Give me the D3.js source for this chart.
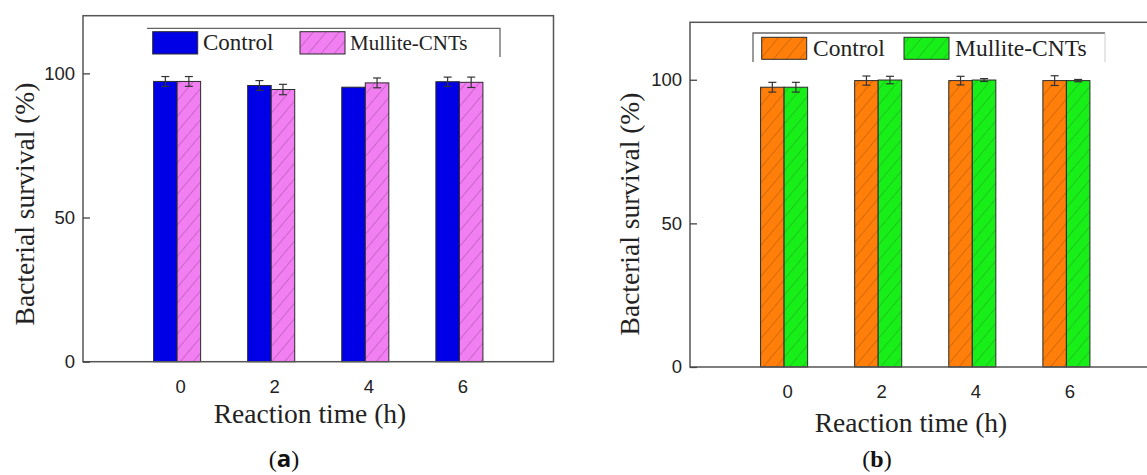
<!DOCTYPE html>
<html>
<head>
<meta charset="utf-8">
<script src="https://cdn.jsdelivr.net/npm/d3@7"></script>
<style>
  body { margin: 0; background: #fff; }
  svg { display: block; }
</style>
</head>
<body>
<svg id="chart" width="1147" height="475"></svg>
<script>
// reaction times (h)
const times = [0, 2, 4, 6];
const yTicks = [0, 50, 100];
const seriesNames = ["Control", "Mullite-CNTs"];

// panel (a)
const aControl = [97.2, 95.8, 95.2, 97.1];
const aControlErr = [1.7, 1.7, 0, 1.6];
const aMullite = [97.2, 94.4, 96.7, 96.9];
const aMulliteErr = [1.7, 1.8, 1.7, 1.8];

// panel (b)
const bControl = [97.4, 99.7, 99.7, 99.7];
const bControlErr = [1.7, 1.6, 1.5, 1.7];
const bMullite = [97.4, 99.9, 99.9, 99.7];
const bMulliteErr = [1.7, 1.3, 0.5, 0.4];

const svg = d3.select("#chart");
const defs = svg.append("defs");

// hatch patterns
function hatch(id, fill, line, op) {
  const p = defs.append("pattern")
    .attr("id", id)
    .attr("patternUnits", "userSpaceOnUse")
    .attr("width", 10).attr("height", 10)
    .attr("patternTransform", "rotate(40)");
  p.append("rect").attr("width", 10).attr("height", 10).attr("fill", fill);
  p.append("line")
    .attr("x1", 0).attr("y1", 0).attr("x2", 0).attr("y2", 10)
    .attr("stroke", line).attr("stroke-width", 1).attr("opacity", op);
}
hatch("hPink", "#f27ff2", "#7a2a7a", 0.65);
hatch("hOrange", "#ff7f0a", "#6a3000", 0.55);
hatch("hGreen", "#18ef18", "#1a6a1a", 0.55);

function panel(cfg) {
  const x = d3.scaleLinear().domain([-2, 8]).range([cfg.left, cfg.left + 470.5]);
  const y = d3.scaleLinear().domain([0, 120]).range([cfg.bottom, cfg.top]);
  const g = svg.append("g");
  const bw = 0.5;

  // bars
  const series = [
    { vals: cfg.s1, errs: cfg.e1, fill: cfg.f1, off: -bw },
    { vals: cfg.s2, errs: cfg.e2, fill: cfg.f2, off: 0 }
  ];
  series.forEach(s => {
    g.selectAll(null)
      .data(times)
      .enter()
      .append("rect")
      .attr("x", (d) => x(d + s.off))
      .attr("y", (d, i) => y(s.vals[i]))
      .attr("width", (d) => x(d + s.off + bw) - x(d + s.off))
      .attr("height", (d, i) => y(0) - y(s.vals[i]))
      .attr("fill", s.fill)
      .attr("stroke", "#2a2a2a")
      .attr("stroke-width", 1);
  });

  // error bars
  series.forEach(s => {
    const eb = g.selectAll(null)
      .data(times.map((t, i) => ({ t: t, v: s.vals[i], e: s.errs[i] })).filter(d => d.e > 0))
      .enter()
      .append("g")
      .attr("stroke", "#333")
      .attr("stroke-width", 1.2);
    const cx = (d) => x(d.t + s.off + bw / 2);
    eb.append("line")
      .attr("x1", cx).attr("x2", cx)
      .attr("y1", (d) => y(d.v - d.e)).attr("y2", (d) => y(d.v + d.e));
    [-1, 1].forEach(k => {
      eb.append("line")
        .attr("x1", (d) => cx(d) - 4).attr("x2", (d) => cx(d) + 4)
        .attr("y1", (d) => y(d.v + k * d.e)).attr("y2", (d) => y(d.v + k * d.e));
    });
  });

  // frame
  g.append("rect")
    .attr("x", x(-2)).attr("y", y(120))
    .attr("width", x(8) - x(-2)).attr("height", y(0) - y(120))
    .attr("fill", "none").attr("stroke", "#555").attr("stroke-width", 1.5);

  // y axis (inward ticks)
  const ya = g.append("g")
    .attr("transform", `translate(${x(-2)},0)`)
    .call(d3.axisLeft(y).tickValues(yTicks).tickSizeInner(-7).tickSizeOuter(0).tickPadding(8));
  ya.select(".domain").remove();
  ya.selectAll("line").attr("stroke", "#444").attr("stroke-width", 1.3);
  ya.selectAll("text")
    .attr("font-family", "'Liberation Sans', Arial, sans-serif")
    .attr("font-size", 18.5).attr("fill", "#222");

  // x axis (labels only)
  const xa = g.append("g")
    .attr("transform", `translate(0,${y(0)})`)
    .call(d3.axisBottom(x).tickValues(times).tickSize(0).tickPadding(18));
  xa.select(".domain").remove();
  xa.selectAll("text")
    .attr("dx", 3)
    .attr("font-family", "'Liberation Sans', Arial, sans-serif")
    .attr("font-size", 18.5).attr("fill", "#222");

  // axis titles
  g.append("text")
    .attr("x", cfg.xTitleX).attr("y", cfg.xTitleY)
    .attr("text-anchor", "middle")
    .attr("font-family", "'Liberation Serif', 'Times New Roman', serif")
    .attr("font-size", 27.5).attr("fill", "#222")
    .text("Reaction time (h)");
  g.append("text")
    .attr("transform", `translate(${cfg.yTitleX},${cfg.yTitleY}) rotate(-90)`)
    .attr("text-anchor", "middle")
    .attr("font-family", "'Liberation Serif', 'Times New Roman', serif")
    .attr("font-size", 27.5).attr("fill", "#222")
    .text("Bacterial survival (%)");

  // legend
  const lg = cfg.legend;
  g.append("path")
    .attr("d", lg.frame)
    .attr("fill", "none").attr("stroke", "#666").attr("stroke-width", 1.3);
  if (lg.frame2) {
    g.append("path").attr("d", lg.frame2)
      .attr("fill", "none").attr("stroke", "#ccc").attr("stroke-width", 1);
  }
  [cfg.f1, cfg.f2].forEach((f, i) => {
    g.append("rect")
      .attr("x", lg.sx[i]).attr("y", lg.sy)
      .attr("width", 45).attr("height", lg.sh)
      .attr("fill", f).attr("stroke", "#2a2a2a").attr("stroke-width", 1);
    g.append("text")
      .attr("x", lg.tx[i]).attr("y", lg.ty)
      .attr("font-family", "'Liberation Serif', 'Times New Roman', serif")
      .attr("font-size", lg.fs[i]).attr("fill", "#222")
      .text(seriesNames[i]);
  });

  // caption
  const cap = g.append("text")
    .attr("x", cfg.capX).attr("y", 467)
    .attr("text-anchor", "middle")
    .attr("font-family", "'Liberation Serif', 'Times New Roman', serif")
    .attr("font-size", 24).attr("fill", "#111");
  cap.append("tspan").text("(");
  cap.append("tspan").attr("font-weight", "bold")
    .attr("font-family", cfg.capFont).text(cfg.letter);
  cap.append("tspan").text(")");
}

panel({
  left: 83, top: 15.7, bottom: 361.7,
  s1: aControl, e1: aControlErr, s2: aMullite, e2: aMulliteErr,
  f1: "#0000e6", f2: "url(#hPink)",
  xTitleX: 310, xTitleY: 423, yTitleX: 34, yTitleY: 204,
  legend: {
    frame: "M147,28.3H500V57",
    sx: [152.7, 300], sy: 31.7, sh: 22.3,
    tx: [203, 350], ty: 49.5, fs: [23, 21]
  },
  capX: 284, letter: "a", capFont: "'Open Sans', sans-serif"
});

panel({
  left: 690, top: 22.3, bottom: 367,
  s1: bControl, e1: bControlErr, s2: bMullite, e2: bMulliteErr,
  f1: "url(#hOrange)", f2: "url(#hGreen)",
  xTitleX: 911, xTitleY: 432, yTitleX: 639, yTitleY: 214,
  legend: {
    frame: "M753,62V33H1105",
    frame2: "M1105,33V62",
    sx: [761.7, 904], sy: 37.3, sh: 22,
    tx: [813, 955], ty: 56, fs: [23.5, 23.5]
  },
  capX: 877, letter: "b", capFont: "'Liberation Serif', serif"
});
</script>
</body>
</html>
